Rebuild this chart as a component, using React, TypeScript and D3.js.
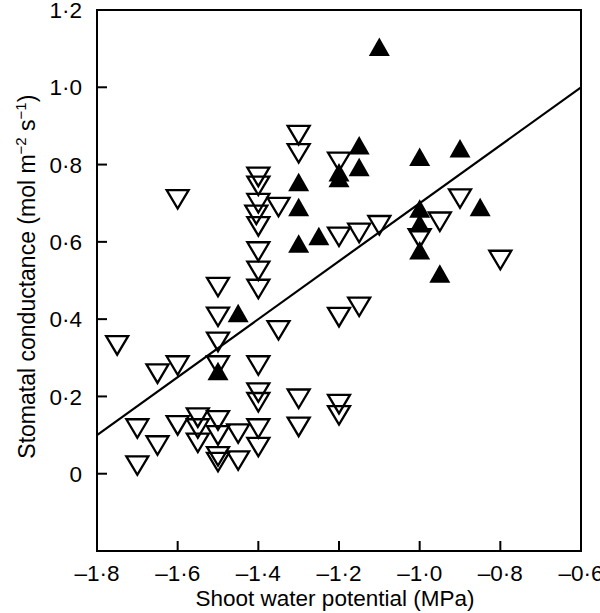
import React, { useEffect, useRef } from 'react';
import * as d3 from 'd3';

// open (inverted) triangles
const openX = [-1.75, -1.7, -1.7, -1.65, -1.65, -1.6, -1.6, -1.6, -1.55, -1.55, -1.55,
    -1.5, -1.5, -1.5, -1.5, -1.5, -1.5, -1.5, -1.5, -1.45, -1.45,
    -1.4, -1.4, -1.4, -1.405, -1.4, -1.4, -1.4, -1.4, -1.4, -1.4, -1.4, -1.4, -1.4,
    -1.35, -1.35, -1.3, -1.3, -1.3, -1.3,
    -1.2, -1.2, -1.2, -1.2, -1.2, -1.15, -1.15, -1.1, -1.0, -0.95, -0.9, -0.8];
const openY = [0.332, 0.117, 0.021, 0.259, 0.073, 0.71, 0.28, 0.125, 0.145, 0.117, 0.08,
    0.483, 0.406, 0.341, 0.28, 0.138, 0.099, 0.045, 0.03, 0.104, 0.034,
    0.768, 0.745, 0.7, 0.67, 0.64, 0.575, 0.525, 0.478, 0.28, 0.21, 0.185, 0.117, 0.069,
    0.69, 0.371, 0.876, 0.829, 0.194, 0.121,
    0.807, 0.613, 0.405, 0.18, 0.151, 0.623, 0.432, 0.643, 0.609, 0.652, 0.712, 0.553];

// filled triangles
const filledX = [-1.5, -1.45, -1.3, -1.3, -1.3, -1.25, -1.2, -1.2, -1.15, -1.15, -1.1,
    -1.0, -1.0, -1.0, -1.0, -0.95, -0.9, -0.85];
const filledY = [0.266, 0.416, 0.755, 0.69, 0.596, 0.615, 0.78, 0.765, 0.85, 0.794, 1.105,
    0.82, 0.686, 0.648, 0.578, 0.518, 0.842, 0.69];

// regression line end points
const fitX = [-1.8, -0.6];
const fitY = [0.1, 1.0];

const xTicks = [-1.8, -1.6, -1.4, -1.2, -1.0, -0.8, -0.6];
const yTicks = [0, 0.2, 0.4, 0.6, 0.8, 1.0, 1.2];

const fmt = (v: number) => {
    if (v === 0) return '0';
    const s = Math.abs(v).toFixed(1).replace('.', '\u00b7');
    return v < 0 ? '\u2013' + s : s;
};

const App = () => {
    const ref = useRef<SVGSVGElement>(null);

    useEffect(() => {
        const svg = d3.select(ref.current);
        svg.selectAll('*').remove();

        const margin = { top: 10, right: 19, bottom: 62, left: 97 };
        const W = 600, H = 613;
        const width = W - margin.left - margin.right;
        const height = H - margin.top - margin.bottom;

        const x = d3.scaleLinear().domain([-1.8, -0.6]).range([0, width]);
        const y = d3.scaleLinear().domain([-0.2, 1.2]).range([height, 0]);

        const g = svg.append('g').attr('transform', `translate(${margin.left},${margin.top})`);
        const font = '"Liberation Sans", Arial, Helvetica, sans-serif';

        // ticks, pointing inward
        g.selectAll('.xt').data(xTicks).enter().append('line')
            .attr('x1', d => x(d)).attr('x2', d => x(d))
            .attr('y1', height).attr('y2', height - 10)
            .attr('stroke', '#000').attr('stroke-width', 2);
        g.selectAll('.yt').data(yTicks).enter().append('line')
            .attr('x1', 0).attr('x2', 10)
            .attr('y1', d => y(d)).attr('y2', d => y(d))
            .attr('stroke', '#000').attr('stroke-width', 2);

        g.selectAll('.xl').data(xTicks).enter().append('text')
            .attr('x', d => x(d)).attr('y', height + 30)
            .attr('text-anchor', 'middle')
            .style('font-family', font).style('font-size', '22.5px')
            .text(d => fmt(d));
        g.selectAll('.yl').data(yTicks).enter().append('text')
            .attr('x', -15).attr('y', d => y(d)).attr('dy', '0.36em')
            .attr('text-anchor', 'end')
            .style('font-family', font).style('font-size', '22.5px')
            .text(d => fmt(d));

        // regression line
        const line = d3.line<number>().x(d => x(fitX[d])).y(d => y(fitY[d]));
        g.append('path').datum([0, 1])
            .attr('d', line)
            .attr('fill', 'none').attr('stroke', '#000').attr('stroke-width', 2.2);

        const tw = 22, th = 18.5;
        const down = `M${-tw / 2},${-th / 2}L${tw / 2},${-th / 2}L0,${th / 2}Z`;
        const up = `M${-tw / 2 + 0.5},${th / 2}L${tw / 2 - 0.5},${th / 2}L0,${-th / 2}Z`;

        g.selectAll('.op').data(openX.map((v, i) => [v, openY[i]])).enter().append('path')
            .attr('d', down)
            .attr('transform', d => `translate(${x(d[0])},${y(d[1])})`)
            .attr('fill', 'none').attr('stroke', '#000').attr('stroke-width', 2.3)
            .attr('stroke-linejoin', 'miter');

        g.selectAll('.fl').data(filledX.map((v, i) => [v, filledY[i]])).enter().append('path')
            .attr('d', up)
            .attr('transform', d => `translate(${x(d[0])},${y(d[1])})`)
            .attr('fill', '#000');

        // frame
        g.append('rect')
            .attr('x', 0).attr('y', 0).attr('width', width).attr('height', height)
            .attr('fill', 'none').attr('stroke', '#000').attr('stroke-width', 2);

        // axis titles
        g.append('text')
            .attr('x', width / 2 - 4).attr('y', height + 55)
            .attr('text-anchor', 'middle')
            .style('font-family', font).style('font-size', '22.5px')
            .text('Shoot water potential (MPa)');

        const yt = g.append('text')
            .attr('transform', `translate(${-62},${y(0.51)}) rotate(-90)`)
            .attr('text-anchor', 'middle')
            .style('font-family', font).style('font-size', '23px');
        yt.append('tspan').text('Stomatal conductance (mol m');
        yt.append('tspan').attr('dy', -9).style('font-size', '15px').text('\u22122');
        yt.append('tspan').attr('dy', 9).text(' s');
        yt.append('tspan').attr('dy', -9).style('font-size', '15px').text('\u22121');
        yt.append('tspan').attr('dy', 9).text(')');
    }, []);

    return (
        <svg ref={ref} width={600} height={613}
            style={{ position: 'absolute', left: 0, top: 0, background: '#fff' }} />
    );
};

export default App;
